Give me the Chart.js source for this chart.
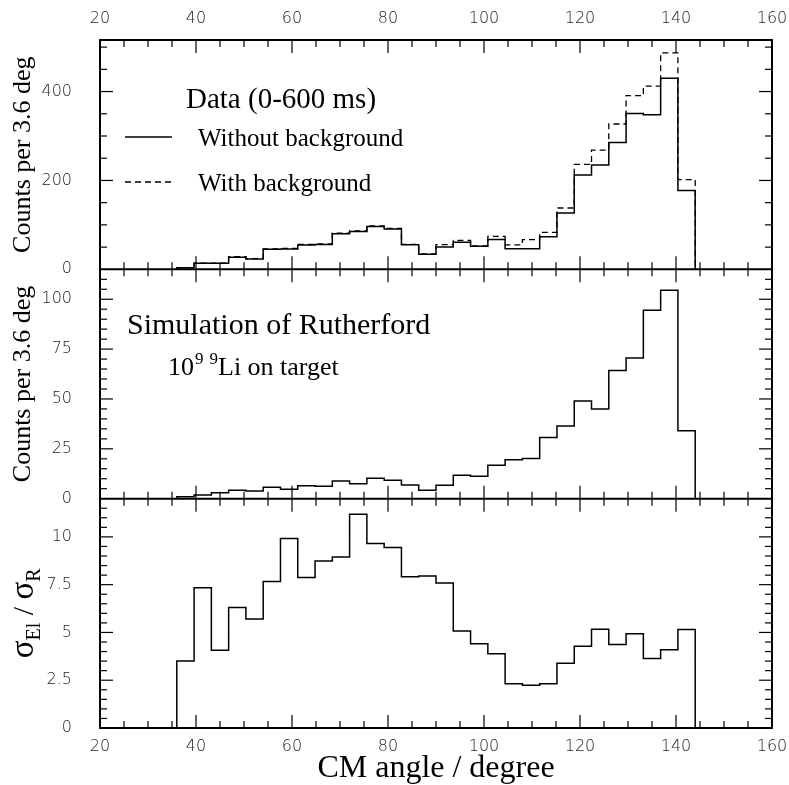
<!DOCTYPE html>
<html>
<head>
<meta charset="utf-8">
<script src="https://cdn.jsdelivr.net/npm/chart.js@4.4.0/dist/chart.umd.min.js"></script>
<style>
  html, body { margin: 0; padding: 0; background: #fff; }
</style>
</head>
<body>
<canvas id="histChart" width="789" height="785"></canvas>
<script>
// bin edges of the 3.6 deg histogram (30 bins)
var binEdges = [36, 39.6, 43.2, 46.8, 50.4, 54, 57.6, 61.2, 64.8, 68.4, 72, 75.6, 79.2, 82.8, 86.4,
                90, 93.6, 97.2, 100.8, 104.4, 108, 111.6, 115.2, 118.8, 122.4, 126, 129.6, 133.2, 136.8, 140.4, 144];

// top panel: data 0-600 ms
var withoutBg = [3.7, 13.5, 13.5, 27, 23, 45, 45.7, 54.7, 56, 80, 85.4, 96.6, 90.6, 55.4, 33.7,
                 50, 61, 51.7, 67, 46.4, 46.4, 73.4, 126.6, 212, 234.5, 285.4, 350.6, 348, 430, 177.5];
var withBg    = [4, 14, 14, 28.5, 24, 46, 47, 56, 57, 81.5, 86.5, 98, 92, 56, 34.5,
                 55.5, 65, 53, 74, 55, 67, 83, 138, 236, 268, 327, 391, 412, 487, 202];

// middle panel: rutherford simulation
var simulated = [1.0, 1.8, 3.0, 4.2, 3.8, 5.7, 4.7, 6.5, 6.2, 8.8, 7.5, 10.2, 9.2, 6.8, 4.2,
                 6.7, 11.8, 11.3, 16.8, 19.5, 20.2, 30.7, 36.5, 49, 45, 64.3, 70.5, 94.5, 104.5, 34];

// bottom panel: sigma_El / sigma_R
var ratio = [3.51, 7.34, 4.07, 6.31, 5.70, 7.66, 9.91, 7.87, 8.74, 8.95, 11.19, 9.65, 9.44, 7.92, 7.95,
             7.59, 5.07, 4.41, 3.88, 2.31, 2.24, 2.31, 3.39, 4.28, 5.17, 4.37, 4.93, 3.64, 4.09, 5.16];

var xTickValues = [20, 40, 60, 80, 100, 120, 140, 160];
var countTickValues = [0, 200, 400];
var simTickValues = [0, 25, 50, 75, 100];
var ratioTickValues = [0, 2.5, 5, 7.5, 10];

// histogram outline: start at 0, hold each bin value, drop back to 0
function histPoints(values) {
  var pts = [{x: binEdges[0], y: 0}];
  values.forEach(function (v, i) { pts.push({x: binEdges[i], y: v}); });
  pts.push({x: binEdges[binEdges.length - 1], y: 0});
  return pts;
}

var tickFont = {family: 'DejaVu Sans', size: 16, weight: '200'};
var serif = 'Liberation Serif';

function fixedTicks(list) {
  return function (scale) { scale.ticks = list.map(function (v) { return {value: v}; }); };
}

function yAxis(weight, max, list, titleText) {
  return {
    type: 'linear', position: 'left', stack: 'panels', stackWeight: 1, weight: weight,
    min: 0, max: max,
    afterBuildTicks: fixedTicks(list),
    afterFit: function (s) { s.width = 100; s.paddingTop = 0; s.paddingBottom = 0; },
    grid: {display: false}, border: {display: false},
    ticks: {font: tickFont, color: '#222', padding: 20},
    title: {display: !!titleText, text: titleText || '', color: '#000',
            font: {family: serif, size: 26}, padding: {top: 8, bottom: 0}}
  };
}

function xAxis(pos, h, pad) {
  return {
    type: 'linear', position: pos, min: 20, max: 160,
    afterBuildTicks: fixedTicks(xTickValues),
    afterFit: function (s) { s.height = h; s.paddingLeft = 0; s.paddingRight = 0; },
    grid: {display: false}, border: {display: false},
    ticks: {font: tickFont, color: '#222', padding: pad, maxRotation: 0}
  };
}

// frame, inward ticks, legend and labels in PAW style
var pawFrame = {
  id: 'pawFrame',
  afterDraw: function (chart) {
    var ctx = chart.ctx;
    var sx = chart.scales.x;
    var yT = chart.scales.yTop, yM = chart.scales.yMid, yB = chart.scales.yBot;
    var left = sx.left, right = sx.right;

    function seg(x1, y1, x2, y2) {
      ctx.beginPath(); ctx.moveTo(x1, y1); ctx.lineTo(x2, y2); ctx.stroke();
    }

    ctx.save();
    ctx.strokeStyle = '#000';
    ctx.lineWidth = 2;
    ctx.strokeRect(left, yT.top, right - left, yB.bottom - yT.top);
    seg(left, yT.bottom, right, yT.bottom);
    seg(left, yM.bottom, right, yM.bottom);

    ctx.lineWidth = 1.2;
    // y ticks, both sides
    [[yT, 200, 50], [yM, 25, 5], [yB, 2.5, 0.5]].forEach(function (p) {
      var s = p[0], major = p[1], minor = p[2];
      for (var k = 1; k * minor < s.max - 1e-9; k++) {
        var v = k * minor;
        var isMajor = Math.abs(v / major - Math.round(v / major)) < 1e-6;
        var len = isMajor ? 13 : 7;
        var y = s.getPixelForValue(v);
        seg(left, y, left + len, y);
        seg(right - len, y, right, y);
      }
    });
    // x ticks on top, dividers and bottom
    for (var v = 20; v <= 160; v += 5) {
      var x = sx.getPixelForValue(v);
      var len = (v % 20 === 0) ? 13 : 7;
      seg(x, yT.top, x, yT.top + len);
      seg(x, yT.bottom - len, x, yT.bottom + len);
      seg(x, yM.bottom - len, x, yM.bottom + len);
      seg(x, yB.bottom - len, x, yB.bottom);
    }

    // top legend
    ctx.fillStyle = '#000';
    ctx.textBaseline = 'alphabetic';
    ctx.textAlign = 'left';
    ctx.font = '29px "' + serif + '"';
    ctx.fillText('Data (0-600 ms)', 186, 108);
    ctx.font = '25px "' + serif + '"';
    ctx.fillText('Without background', 198, 146);
    ctx.fillText('With background', 198, 191);
    ctx.lineWidth = 1.5;
    seg(125, 137, 172, 137);
    ctx.setLineDash([6, 4]);
    seg(125, 182, 172, 182);
    ctx.setLineDash([]);

    // middle labels
    ctx.font = '30px "' + serif + '"';
    ctx.fillText('Simulation of Rutherford', 127, 334);
    var bx = 168, by = 375;
    ctx.font = '26px "' + serif + '"';
    ctx.fillText('10', bx, by); bx += ctx.measureText('10').width;
    ctx.font = '17px "' + serif + '"';
    ctx.fillText('9', bx + 1, by - 11); bx += ctx.measureText('9').width + 7;
    ctx.fillText('9', bx, by - 11); bx += ctx.measureText('9').width;
    ctx.font = '26px "' + serif + '"';
    ctx.fillText('Li on target', bx, by);

    // bottom y title: sigma_El / sigma_R
    var parts = [['σ', 33, 0], ['El', 20, 7], [' / ', 30, 0], ['σ', 33, 0], ['R', 20, 7]];
    var total = 0;
    parts.forEach(function (p) { ctx.font = p[1] + 'px "' + serif + '"'; total += ctx.measureText(p[0]).width; });
    ctx.translate(33, (yB.top + yB.bottom) / 2);
    ctx.rotate(-Math.PI / 2);
    var cx = -total / 2;
    parts.forEach(function (p) {
      ctx.font = p[1] + 'px "' + serif + '"';
      ctx.fillText(p[0], cx, p[2]);
      cx += ctx.measureText(p[0]).width;
    });
    ctx.restore();
  }
};

var bottomAxis = xAxis('bottom', 57, 1);
bottomAxis.title = {display: true, text: 'CM angle / degree', color: '#000',
                    font: {family: serif, size: 32}, padding: {top: 0, bottom: -3}};

var ctxHist = document.getElementById('histChart').getContext('2d');

new Chart(ctxHist, {
  type: 'line',
  data: {
    datasets: [
      {label: 'Without background', data: histPoints(withoutBg), yAxisID: 'yTop', xAxisID: 'x',
       borderColor: '#000', borderWidth: 1.5, stepped: true, pointRadius: 0, fill: false},
      {label: 'With background', data: histPoints(withBg), yAxisID: 'yTop', xAxisID: 'x',
       borderColor: '#000', borderWidth: 1.3, borderDash: [6, 4], stepped: true, pointRadius: 0, fill: false},
      {label: 'Simulation', data: histPoints(simulated), yAxisID: 'yMid', xAxisID: 'x',
       borderColor: '#000', borderWidth: 1.5, stepped: true, pointRadius: 0, fill: false},
      {label: 'Ratio', data: histPoints(ratio), yAxisID: 'yBot', xAxisID: 'x',
       borderColor: '#000', borderWidth: 1.5, stepped: true, pointRadius: 0, fill: false}
    ]
  },
  options: {
    responsive: false,
    animation: false,
    devicePixelRatio: 1,
    layout: {padding: {right: 17, top: 0, bottom: 0, left: 0}},
    plugins: {legend: {display: false}, tooltip: {enabled: false}},
    scales: {
      x: bottomAxis,
      xTop: xAxis('top', 40, 4),
      yTop: yAxis(3, 516, countTickValues, 'Counts per 3.6 deg'),
      yMid: yAxis(2, 115, simTickValues, 'Counts per 3.6 deg'),
      yBot: yAxis(1, 12, ratioTickValues, '')
    }
  },
  plugins: [pawFrame]
});
</script>
</body>
</html>
